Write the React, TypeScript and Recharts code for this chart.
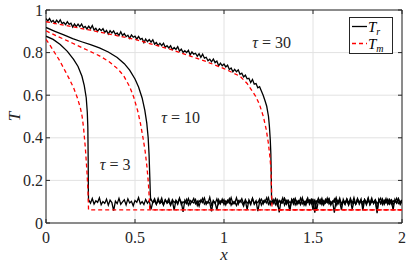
import React from 'react';
import { LineChart, Line, XAxis, YAxis, CartesianGrid, ReferenceArea, ReferenceDot, Label } from 'recharts';

const W = 409;
const H = 265;
const M = { top: 10, right: 7, left: 0, bottom: 0 };
const YW = 46;
const XH = 42;
const PH = H - M.top - M.bottom - XH;
const PW = W - M.left - M.right - YW;
const FONT = 'Liberation Serif, Times New Roman, Times, DejaVu Serif, Noto Serif, serif';
const INK = '#262626';

const xTicks = [0, 0.5, 1, 1.5, 2];
const yTicks = [0, 0.2, 0.4, 0.6, 0.8, 1];

// smooth parts, [x, T]
const tr3Front = [[0, 0.877], [0.04, 0.862], [0.08, 0.838], [0.12, 0.806], [0.155, 0.768], [0.18, 0.735], [0.202, 0.689], [0.215, 0.645], [0.226, 0.588], [0.232, 0.52], [0.235, 0.45], [0.237, 0.3], [0.238, 0.15], [0.239, 0.105]];
const tm3 = [[0, 0.862], [0.02, 0.838], [0.043, 0.807], [0.075, 0.765], [0.108, 0.713], [0.13, 0.678], [0.155, 0.635], [0.175, 0.59], [0.193, 0.541], [0.203, 0.5], [0.211, 0.447], [0.221, 0.353], [0.23, 0.243], [0.236, 0.149], [0.239, 0.062], [2, 0.062]];

const tr10Front = [[0, 0.918], [0.05, 0.9], [0.1, 0.883], [0.15, 0.866], [0.2, 0.851], [0.25, 0.837], [0.3, 0.822], [0.35, 0.803], [0.4, 0.777], [0.44, 0.748], [0.47, 0.718], [0.5, 0.676], [0.52, 0.638], [0.54, 0.587], [0.555, 0.53], [0.566, 0.47], [0.574, 0.4], [0.579, 0.32], [0.583, 0.22], [0.586, 0.14], [0.588, 0.105]];
const tm10 = [[0, 0.902], [0.05, 0.882], [0.1, 0.863], [0.15, 0.844], [0.2, 0.824], [0.25, 0.805], [0.3, 0.785], [0.35, 0.76], [0.4, 0.726], [0.436, 0.692], [0.47, 0.64], [0.492, 0.593], [0.515, 0.527], [0.53, 0.47], [0.545, 0.4], [0.557, 0.337], [0.567, 0.265], [0.575, 0.19], [0.58, 0.12], [0.583, 0.062], [2, 0.062]];

// tau = 30 upper part, sampled every 0.01 from x = 0
const tr30Top = [0.960, 0.949, 0.960, 0.944, 0.951, 0.938, 0.952, 0.941, 0.954, 0.936,
  0.942, 0.931, 0.945, 0.933, 0.938, 0.920, 0.934, 0.922, 0.934, 0.922,
  0.934, 0.917, 0.923, 0.911, 0.924, 0.912, 0.927, 0.906, 0.914, 0.900,
  0.912, 0.903, 0.912, 0.895, 0.904, 0.887, 0.903, 0.892, 0.902, 0.886,
  0.892, 0.880, 0.898, 0.880, 0.889, 0.875, 0.882, 0.867, 0.883, 0.872,
  0.877, 0.863, 0.876, 0.862, 0.867, 0.847, 0.864, 0.851, 0.861, 0.849,
  0.860, 0.840, 0.847, 0.833, 0.844, 0.833, 0.844, 0.825, 0.832, 0.822,
  0.832, 0.814, 0.824, 0.815, 0.828, 0.807, 0.816, 0.801, 0.809, 0.800,
  0.811, 0.789, 0.803, 0.793, 0.797, 0.783, 0.795, 0.778, 0.793, 0.774,
  0.778, 0.762, 0.769, 0.757, 0.770, 0.753, 0.760, 0.738, 0.750, 0.738,
  0.746, 0.733, 0.741, 0.721, 0.728, 0.710, 0.721, 0.710, 0.719, 0.698,
  0.703, 0.686, 0.694, 0.677, 0.679, 0.659, 0.674, 0.652, 0.655, 0.635,
  0.640];
const tr30Front = [[1.21, 0.62], [1.22, 0.6], [1.23, 0.575], [1.24, 0.548], [1.25, 0.5], [1.255, 0.454], [1.26, 0.39], [1.263, 0.33], [1.265, 0.25], [1.266, 0.18], [1.267, 0.12]];
const tm30 = [[0, 0.945], [0.25, 0.905], [0.5, 0.862], [0.7, 0.815], [0.9, 0.758], [1.0, 0.725], [1.09, 0.689], [1.13, 0.655], [1.178, 0.595], [1.2, 0.555], [1.221, 0.5], [1.237, 0.44], [1.249, 0.376], [1.258, 0.31], [1.264, 0.25], [1.268, 0.126], [1.27, 0.062], [2, 0.062]];

// noisy tails behind the fronts, sampled every 0.01
const tail3 = [0.108, 0.093, 0.115, 0.089, 0.104, 0.097, 0.118, 0.086, 0.101, 0.092,
  0.112, 0.084, 0.107, 0.096, 0.058, 0.103, 0.091, 0.116, 0.088, 0.099,
  0.109, 0.085, 0.113, 0.094, 0.102, 0.081, 0.106, 0.097, 0.119, 0.090,
  0.100, 0.087, 0.111, 0.093, 0.105, 0.064, 0.098, 0.114, 0.089, 0.103,
  0.095, 0.117, 0.086, 0.108, 0.092, 0.101, 0.083, 0.110, 0.096, 0.104,
  0.088, 0.113, 0.099, 0.052, 0.107, 0.091, 0.115, 0.087, 0.102, 0.094,
  0.110, 0.082, 0.105, 0.098, 0.116, 0.089, 0.100, 0.093, 0.121, 0.085,
  0.103, 0.096, 0.061, 0.109, 0.090, 0.112, 0.087, 0.104, 0.095, 0.114,
  0.084, 0.101, 0.092, 0.118, 0.088, 0.106, 0.097, 0.079, 0.110, 0.093,
  0.102, 0.086, 0.115, 0.091, 0.104, 0.056, 0.099, 0.112, 0.089, 0.107,
  0.094, 0.118, 0.085, 0.103, 0.097, 0.111, 0.082, 0.106, 0.093, 0.100,
  0.115, 0.088, 0.102, 0.066, 0.109, 0.095, 0.113, 0.087, 0.104, 0.091,
  0.119, 0.084, 0.101, 0.096, 0.108, 0.090, 0.114, 0.048, 0.103, 0.097,
  0.110, 0.086, 0.105, 0.093, 0.117, 0.089, 0.100, 0.094, 0.112, 0.083,
  0.106, 0.098, 0.062, 0.111, 0.091, 0.103, 0.087, 0.116, 0.095, 0.102,
  0.088, 0.113, 0.097, 0.105, 0.081, 0.109, 0.092, 0.118, 0.086, 0.101,
  0.096, 0.107, 0.059, 0.112, 0.090, 0.104, 0.093, 0.115, 0.087, 0.100,
  0.109, 0.085, 0.103, 0.095, 0.114, 0.089, 0.106];
const tail10 = [0.112, 0.095, 0.104, 0.087, 0.116, 0.092, 0.101, 0.083, 0.109, 0.097,
  0.114, 0.088, 0.103, 0.060, 0.107, 0.094, 0.118, 0.086, 0.100, 0.093,
  0.111, 0.084, 0.106, 0.098, 0.115, 0.090, 0.102, 0.079, 0.108, 0.096,
  0.117, 0.087, 0.101, 0.094, 0.055, 0.105, 0.091, 0.113, 0.088, 0.103,
  0.096, 0.110, 0.085, 0.107, 0.093, 0.119, 0.089, 0.100, 0.082, 0.106,
  0.098, 0.114, 0.090, 0.104, 0.063, 0.109, 0.092, 0.116, 0.087, 0.101,
  0.095, 0.112, 0.084, 0.105, 0.097, 0.118, 0.088, 0.102, 0.091, 0.110,
  0.086, 0.107, 0.050, 0.103, 0.094, 0.115, 0.089, 0.108, 0.096, 0.100,
  0.113, 0.085, 0.104, 0.092, 0.117, 0.090, 0.101, 0.083, 0.109, 0.097,
  0.111, 0.088, 0.106, 0.058, 0.102, 0.093, 0.116, 0.087, 0.105, 0.095,
  0.112, 0.084, 0.103, 0.098, 0.119, 0.089, 0.107, 0.092, 0.100, 0.086,
  0.114, 0.096, 0.108, 0.065, 0.101, 0.091, 0.115, 0.088, 0.104, 0.097,
  0.110, 0.085, 0.106, 0.094, 0.117, 0.090, 0.102, 0.046, 0.108, 0.093,
  0.113, 0.087, 0.104, 0.096, 0.111, 0.089, 0.105, 0.098, 0.116, 0.091,
  0.100, 0.108];
const tail30 = [0.109, 0.091, 0.114, 0.087, 0.103, 0.096, 0.118, 0.084, 0.106, 0.093,
  0.057, 0.110, 0.089, 0.115, 0.092, 0.104, 0.086, 0.112, 0.097, 0.101,
  0.118, 0.088, 0.107, 0.062, 0.105, 0.094, 0.116, 0.090, 0.103, 0.085,
  0.111, 0.098, 0.114, 0.089, 0.100, 0.049, 0.108, 0.093, 0.117, 0.087,
  0.104, 0.096, 0.112, 0.084, 0.106, 0.091, 0.119, 0.088, 0.102, 0.095,
  0.113, 0.059, 0.109, 0.092, 0.115, 0.086, 0.104, 0.097, 0.110, 0.090,
  0.101, 0.116, 0.087, 0.107, 0.094, 0.112, 0.089, 0.105, 0.062, 0.111,
  0.093, 0.114, 0.088, 0.103];

const curveLabels = [
  { x: 0.389, y: 0.275, tau: '3' },
  { x: 0.756, y: 0.495, tau: '10' },
  { x: 1.267, y: 0.847, tau: '30' },
];

const pairs = (arr: number[][]) => arr.map(([x, y]) => ({ x, y }));
const sampled = (x0: number, step: number, vals: number[]) =>
  vals.map((y, i) => ({ x: +(x0 + i * step).toFixed(4), y }));

const tr3 = [...pairs(tr3Front), ...sampled(0.24, 0.01, tail3)];
const tr10 = [...pairs(tr10Front), ...sampled(0.59, 0.01, tail10)];
const tr30 = [...sampled(0, 0.01, tr30Top), ...pairs(tr30Front), ...sampled(1.27, 0.01, tail30)];

const fmt = (v: number) => String(v);

const XTick = (props: any) => {
  const { x, y, payload } = props;
  return (
    <g>
      <line x1={x} x2={x} y1={y} y2={y - 4} stroke={INK} strokeWidth={1} />
      <line x1={x} x2={x} y1={y - PH} y2={y - PH + 4} stroke={INK} strokeWidth={1} />
      <text x={x} y={y + 20} textAnchor="middle" fontFamily={FONT} fontSize={16} fill={INK}>{fmt(payload.value)}</text>
    </g>
  );
};

const YTick = (props: any) => {
  const { x, y, payload } = props;
  return (
    <g>
      <line x1={x} x2={x + 4} y1={y} y2={y} stroke={INK} strokeWidth={1} />
      <line x1={x + PW} x2={x + PW - 4} y1={y} y2={y} stroke={INK} strokeWidth={1} />
      <text x={x - 3} y={y + 5.5} textAnchor="end" fontFamily={FONT} fontSize={16} fill={INK}>{fmt(payload.value)}</text>
    </g>
  );
};

const TauText = (props: any) => {
  const { cx, cy, tau } = props;
  return (
    <text x={cx} y={cy + 5.5} textAnchor="middle" fontFamily={FONT} fontSize={16} fill={INK}>
      <tspan fontStyle="italic">τ</tspan> = {tau}
    </text>
  );
};

const LegendBox = () => (
  <div style={{ position: 'absolute', left: 349, top: 17, width: 44, height: 37, boxSizing: 'border-box', border: `1px solid ${INK}`, background: '#fff' }}>
    <svg width={42} height={35} style={{ display: 'block' }}>
      <line x1={2} x2={17} y1={8.5} y2={8.5} stroke="#000" strokeWidth={1.3} />
      <text x={18} y={14} fontFamily={FONT} fontSize={15} fill="#000">
        <tspan fontStyle="italic">T</tspan><tspan fontStyle="italic" fontSize={10} dy={3}>r</tspan>
      </text>
      <line x1={2} x2={17} y1={25.5} y2={25.5} stroke="#ff0000" strokeWidth={1.3} strokeDasharray="4 3" />
      <text x={18} y={31} fontFamily={FONT} fontSize={15} fill="#000">
        <tspan fontStyle="italic">T</tspan><tspan fontStyle="italic" fontSize={10} dy={3}>m</tspan>
      </text>
    </svg>
  </div>
);

export default function App() {
  return (
    <div style={{ position: 'absolute', left: 0, top: 0, width: W, height: H, background: '#fff' }}>
      <LineChart width={W} height={H} margin={M}>
        <CartesianGrid stroke="#e2e2e2" strokeWidth={1} />
        <XAxis
          dataKey="x"
          type="number"
          domain={[0, 2]}
          ticks={xTicks}
          allowDataOverflow
          height={XH}
          tickSize={0}
          tickMargin={0}
          axisLine={false}
          tickLine={false}
          tick={<XTick />}
        >
          <Label content={() => (
            <text x={YW + PW / 2} y={H - 5} textAnchor="middle" fontFamily={FONT} fontSize={17} fontStyle="italic" fill={INK}>x</text>
          )} />
        </XAxis>
        <YAxis
          type="number"
          domain={[0, 1]}
          ticks={yTicks}
          allowDataOverflow
          width={YW}
          tickSize={0}
          tickMargin={0}
          axisLine={false}
          tickLine={false}
          tick={<YTick />}
        >
          <Label content={() => (
            <text x={0} y={0} transform={`translate(20, ${M.top + PH / 2}) rotate(-90)`} textAnchor="middle" fontFamily={FONT} fontSize={17} fontStyle="italic" fill={INK}>T</text>
          )} />
        </YAxis>
        <ReferenceArea x1={0} x2={2} y1={0} y2={1} fill="none" stroke={INK} strokeWidth={1} ifOverflow="visible" />
        <Line data={tr3} dataKey="y" stroke="#000" strokeWidth={1.3} dot={false} isAnimationActive={false} />
        <Line data={tr10} dataKey="y" stroke="#000" strokeWidth={1.3} dot={false} isAnimationActive={false} />
        <Line data={tr30} dataKey="y" stroke="#000" strokeWidth={1.3} dot={false} isAnimationActive={false} />
        <Line data={pairs(tm3)} dataKey="y" stroke="#ff0000" strokeWidth={1.3} strokeDasharray="4 3" dot={false} isAnimationActive={false} />
        <Line data={pairs(tm10)} dataKey="y" stroke="#ff0000" strokeWidth={1.3} strokeDasharray="4 3" dot={false} isAnimationActive={false} />
        <Line data={pairs(tm30)} dataKey="y" stroke="#ff0000" strokeWidth={1.3} strokeDasharray="4 3" dot={false} isAnimationActive={false} />
        {curveLabels.map((c) => (
          <ReferenceDot key={c.tau} x={c.x} y={c.y} r={0} shape={(p: any) => <TauText {...p} tau={c.tau} />} />
        ))}
      </LineChart>
      <LegendBox />
    </div>
  );
}
